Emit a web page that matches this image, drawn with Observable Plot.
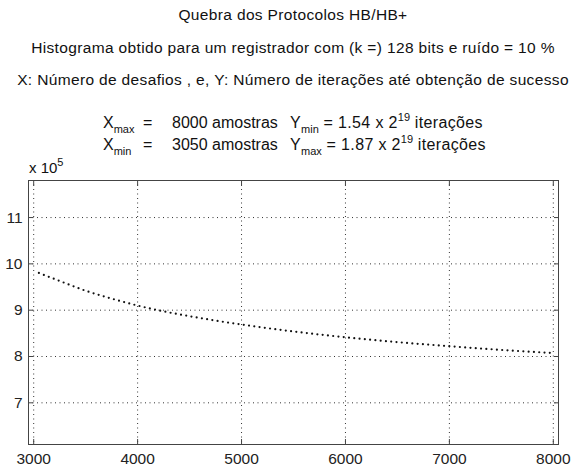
<!DOCTYPE html>
<html>
<head>
<meta charset="utf-8">
<script src="https://cdn.jsdelivr.net/npm/d3@7"></script>
<script src="https://cdn.jsdelivr.net/npm/@observablehq/plot@0.6"></script>
<style>
  html, body { margin: 0; padding: 0; background: #fff; }
  body { width: 572px; height: 472px; position: relative; overflow: hidden;
         font-family: "Liberation Sans", Arial, sans-serif; color: #111; }
  .t { position: absolute; left: 7px; width: 572px; text-align: center; white-space: pre;
       font-size: 15.5px; line-height: 15.5px; letter-spacing: 0.35px; z-index: 2; }
  .s { position: absolute; white-space: pre; font-size: 16px; line-height: 16px; z-index: 2; }
  .s.w { letter-spacing: 0.35px; }
  .s sub, .s sup, .x sup { font-size: 11px; line-height: 0; letter-spacing: 0; }
  .s sub { vertical-align: -5px; }
  .s sup { vertical-align: 7px; }
  .x { position: absolute; left: 29px; top: 160px; white-space: pre; font-size: 15px; line-height: 15px; z-index: 2; }
  .x sup { vertical-align: 7px; }
  #chart { position: absolute; left: 0; top: 160px; z-index: 1; }
</style>
</head>
<body>
<div id="chart"></div>
<div class="t" style="top:7px">Quebra dos Protocolos HB/HB+</div>
<div class="t" style="top:40px">Histograma obtido para um registrador com (k =) 128 bits e ruído = 10 %</div>
<div class="t" style="top:72px">X: Número de desafios , e, Y: Número de iterações até obtenção de sucesso</div>

<div class="s" style="left:103px; top:114.5px">X<sub>max</sub></div>
<div class="s" style="left:143px; top:114.5px">=</div>
<div class="s" style="left:172px; top:114.5px">8000 amostras</div>
<div class="s w" style="left:290px; top:114.5px">Y<sub>min</sub> = 1.54 x 2<sup>19</sup> iterações</div>

<div class="s" style="left:103px; top:136.5px">X<sub>min</sub></div>
<div class="s" style="left:143px; top:136.5px">=</div>
<div class="s" style="left:172px; top:136.5px">3050 amostras</div>
<div class="s w" style="left:290px; top:136.5px">Y<sub>max</sub> = 1.87 x 2<sup>19</sup> iterações</div>

<div class="x">x 10<sup>5</sup></div>
<script>
// Number of challenges (samples)
const desafios = [3050, 3250, 3500, 3750, 4000, 4250, 4500, 4750, 5000, 5500, 6000, 6500, 7000, 7500, 8000];
// Iterations until success
const iteracoes = [980400, 963000, 942000, 925000, 910000, 897500, 887000, 877500, 869000, 854000, 841500, 831000, 822200, 814200, 807400];
const xTicks = [3000, 4000, 5000, 6000, 7000, 8000];
const yTicks = [700000, 800000, 900000, 1000000, 1100000];
const xDomain = [2950, 8050];
const yDomain = [610000, 1180000];

const data = desafios.map((d, i) => ({x: d, y: iteracoes[i]}));
const fmtY = d => String(d / 1e5);
const ink = "#222";

const chart = Plot.plot({
  width: 572,
  height: 312,
  marginLeft: 28,
  marginRight: 14,
  marginTop: 20,
  marginBottom: 28,
  style: {fontFamily: "Liberation Sans, Arial, sans-serif", fontSize: "15.5px", color: ink, background: "white"},
  x: {domain: xDomain},
  y: {domain: yDomain},
  marks: [
    Plot.gridX(xTicks, {stroke: "#000", strokeOpacity: 0.8, strokeDasharray: "1,3.5"}),
    Plot.gridY(yTicks, {stroke: "#000", strokeOpacity: 0.8, strokeDasharray: "1,3.5"}),
    Plot.axisX(xTicks, {anchor: "bottom", tickSize: 0, tickPadding: 8, tickFormat: d => String(d), label: null, fill: ink}),
    Plot.axisY(yTicks, {anchor: "left", tickSize: 0, tickPadding: 6, tickFormat: fmtY, label: null, fill: ink}),
    Plot.axisX(xTicks, {anchor: "bottom", tickSize: 5, dy: -5, tickFormat: () => "", label: null, stroke: "#444"}),
    Plot.axisX(xTicks, {anchor: "top", tickSize: 5, dy: 5, tickFormat: () => "", label: null, stroke: "#444"}),
    Plot.axisY(yTicks, {anchor: "left", tickSize: 5, dx: 5, tickFormat: () => "", label: null, stroke: "#444"}),
    Plot.axisY(yTicks, {anchor: "right", tickSize: 5, dx: -5, tickFormat: () => "", label: null, stroke: "#444"}),
    Plot.frame({stroke: "#444", strokeWidth: 1}),
    Plot.line(data, {x: "x", y: "y", curve: "monotone-x", stroke: "#111", strokeWidth: 2.2,
      strokeLinecap: "round", strokeDasharray: "0,5.3"})
  ]
});
document.getElementById("chart").appendChild(chart);
</script>
</body>
</html>
